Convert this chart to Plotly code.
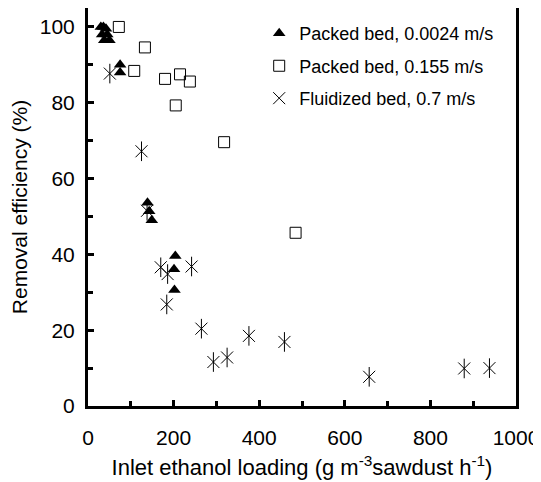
import plotly.graph_objects as go

# Packed bed, 0.0024 m/s
pb1_x = [30, 36, 42, 33, 45, 38, 50, 75, 75, 139, 143, 149, 204, 201, 202]
pb1_y = [100, 100, 99.5, 98, 98, 96.5, 96.5, 90, 88, 53.6, 51.4, 49, 39.6, 36.1, 30.6]

# Packed bed, 0.155 m/s
pb2_x = [72, 133, 108, 180, 215, 238, 205, 318, 485]
pb2_y = [100, 94.6, 88.4, 86.3, 87.5, 85.6, 79.3, 69.6, 45.7]

# Fluidized bed, 0.7 m/s
fb_x = [51, 125, 138, 170, 186, 242, 184, 265, 293, 325, 376, 459, 657, 879, 938]
fb_y = [87.7, 67.2, 51.5, 36.6, 34.8, 36.8, 26.8, 20.4, 11.6, 12.8, 18.5, 16.9, 7.7, 9.9, 10]

names = ["Packed bed, 0.0024 m/s", "Packed bed, 0.155 m/s", "Fluidized bed, 0.7 m/s"]

FONT = "Liberation Sans, Arial, sans-serif"

fig = go.Figure()
fig.add_trace(go.Scatter(x=pb1_x, y=pb1_y, mode="markers", name=names[0], legendgroup="a",
                         marker=dict(symbol="triangle-up", size=11, color="black")))
fig.add_trace(go.Scatter(x=pb2_x, y=pb2_y, mode="markers", name=names[1], legendgroup="b",
                         marker=dict(symbol="square-open", size=11, color="black",
                                     line=dict(width=1, color="black"))))
fig.add_trace(go.Scatter(x=fb_x, y=fb_y, mode="markers", name=names[2], legendgroup="c",
                         marker=dict(symbol="x-thin-open", size=12, color="black",
                                     line=dict(width=1, color="black"))))
fig.add_trace(go.Scatter(x=fb_x, y=fb_y, mode="markers", name=names[2], legendgroup="c",
                         showlegend=False,
                         marker=dict(symbol="line-ns-open", size=14, color="black",
                                     line=dict(width=1, color="black"))))

axis_common = dict(
    showline=True, linecolor="black", linewidth=3, mirror=True,
    ticks="inside", ticklen=6, tickwidth=3, tickcolor="black",
    showgrid=False, zeroline=False, automargin=False,
    tickfont=dict(family=FONT, size=21, color="black"),
)

fig.update_xaxes(range=[0, 1000], dtick=200, tick0=0,
                 minor=dict(dtick=100, ticks="inside", ticklen=5, tickwidth=3, tickcolor="black"),
                 ticklabelstandoff=11,
                 title=dict(text="Inlet ethanol loading (g m<sup>-3</sup>sawdust h<sup>-1</sup>)",
                            font=dict(family=FONT, size=22, color="black"), standoff=12),
                 **axis_common)
fig.update_yaxes(range=[0, 105], dtick=20, tick0=0,
                 minor=dict(dtick=10, ticks="inside", ticklen=5, tickwidth=3, tickcolor="black"),
                 ticklabelstandoff=6,
                 title=dict(text="Removal efficiency (%)",
                            font=dict(family=FONT, size=21, color="black"), standoff=10),
                 **axis_common)

# the page body adds an 8px offset, so the figure is 8px smaller than the window
fig.update_layout(
    width=533, height=474,
    margin=dict(l=80, r=25, t=0, b=76),
    paper_bgcolor="white", plot_bgcolor="white",
    showlegend=True,
    legend=dict(x=0.40, y=0.982, xanchor="left", yanchor="top",
                bgcolor="rgba(0,0,0,0)", borderwidth=0,
                font=dict(family=FONT, size=18, color="black"),
                tracegroupgap=6, itemwidth=30),
)

fig.write_html("out.html")
